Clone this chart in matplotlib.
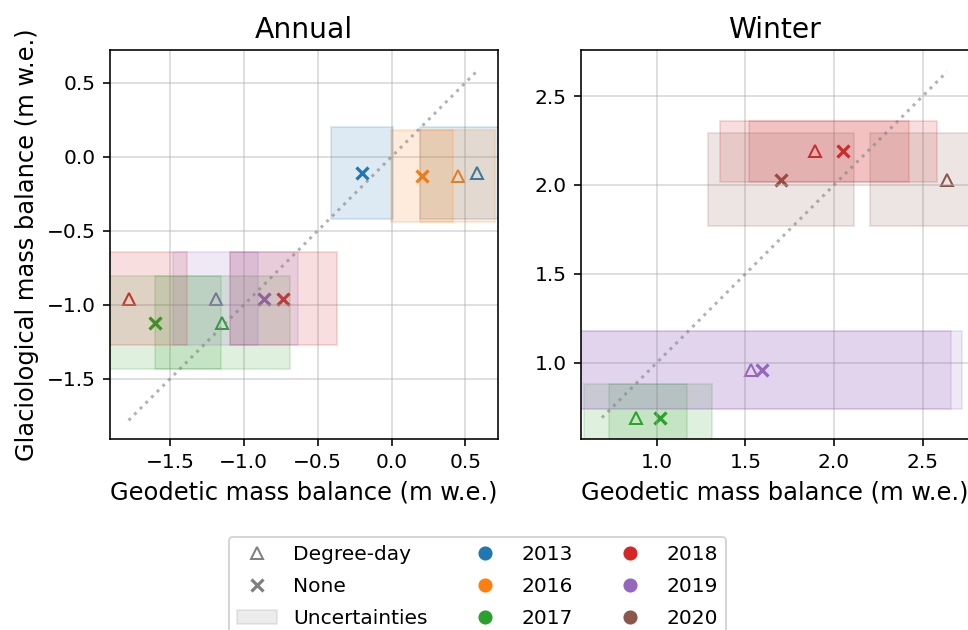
import matplotlib
matplotlib.use("Agg")
import matplotlib.pyplot as plt
from matplotlib.patches import Rectangle, Patch
from matplotlib.lines import Line2D

# ---------------- data ----------------
years = [2013, 2016, 2017, 2018, 2019, 2020]
year_colors = ["C0", "C1", "C2", "C3", "C4", "C5"]

# Annual
annual_years = [2013, 2016, 2017, 2018, 2019]
annual_glac = [-0.11, -0.13, -1.12, -0.958, -0.958]
annual_glac_err = [0.31, 0.31, 0.312, 0.312, 0.312]
annual_dd = [0.578, 0.447, -1.145, -1.779, -1.19]
annual_dd_err = [0.389, 0.253, 0.456, 0.392, 0.288]
annual_none = [-0.20, 0.207, -1.60, -0.732, -0.863]
annual_none_err = [0.21, 0.21, 0.443, 0.362, 0.227]

# Winter
winter_years = [2017, 2018, 2019, 2020]
winter_glac = [0.69, 2.19, 0.96, 2.03]
winter_glac_err = [0.192, 0.172, 0.22, 0.26]
winter_dd = [0.88, 1.891, 1.53, 2.637]
winter_dd_err = [0.29, 0.532, 1.13, 0.436]
winter_none = [1.02, 2.051, 1.594, 1.70]
winter_none_err = [0.29, 0.532, 1.126, 0.411]

annual_ticks = [-1.5, -1.0, -0.5, 0.0, 0.5]
winter_ticks = [1.0, 1.5, 2.0, 2.5]
annual_lim = (-1.905, 0.72)
winter_lim = (0.57, 2.76)

titles = ["Annual", "Winter"]
xlabel = "Geodetic mass balance (m w.e.)"
ylabel = "Glaciological mass balance (m w.e.)"
legend_method_labels = ["Degree-day", "None", "Uncertainties"]

# ---------------- plot ----------------
DPI = 145
fig = plt.figure(figsize=(968 / DPI, 630 / DPI), dpi=DPI)
W, H = 968, 630
ax1 = fig.add_axes([110 / W, 1 - 439 / H, 388 / W, 389 / H])
ax2 = fig.add_axes([580.7 / W, 1 - 439 / H, 388 / W, 389 / H])

color_of = dict(zip(years, year_colors))


def draw(ax, yrs, glac, glac_err, dd, dd_err, none, none_err, lim, ticks, title):
    for y, g, ge, d, de, n, ne in zip(yrs, glac, glac_err, dd, dd_err, none, none_err):
        c = color_of[y]
        ax.plot([d], [g], marker="^", ls="none", color=c, mfc="none",
                markersize=6, mew=1.0, zorder=1)
        ax.plot([n], [g], marker="x", ls="none", color=c,
                markersize=6, mew=1.6, zorder=1)
    for y, g, ge, d, de, n, ne in zip(yrs, glac, glac_err, dd, dd_err, none, none_err):
        c = color_of[y]
        for xv, xe in ((d, de), (n, ne)):
            ax.add_patch(Rectangle((xv - xe, g - ge), 2 * xe, 2 * ge,
                                   facecolor=c, edgecolor=c, alpha=0.15,
                                   linewidth=1.0, zorder=2))
    allv = list(glac) + list(dd) + list(none)
    lo, hi = min(allv), max(allv)
    ax.plot([lo, hi], [lo, hi], ls=":", color="grey", alpha=0.6, lw=1.5, zorder=3)
    ax.set_xlim(*lim)
    ax.set_ylim(*lim)
    ax.set_xticks(ticks)
    ax.set_yticks(ticks)
    ax.grid(True, color="#b0b0b0", alpha=0.5, lw=0.8)
    ax.tick_params(labelsize=10)
    ax.set_title(title, fontsize=14)
    ax.set_xlabel(xlabel, fontsize=12)


draw(ax1, annual_years, annual_glac, annual_glac_err, annual_dd, annual_dd_err,
     annual_none, annual_none_err, annual_lim, annual_ticks, titles[0])
draw(ax2, winter_years, winter_glac, winter_glac_err, winter_dd, winter_dd_err,
     winter_none, winter_none_err, winter_lim, winter_ticks, titles[1])
ax1.set_ylabel(ylabel, fontsize=12)

handles = [
    Line2D([], [], marker="^", ls="none", color="grey", mfc="none", markersize=5.5, mew=1.0),
    Line2D([], [], marker="x", ls="none", color="grey", markersize=5.5, mew=1.6),
    Patch(facecolor="grey", edgecolor="grey", alpha=0.15),
]
labels = list(legend_method_labels)
for y, c in zip(years, year_colors):
    handles.append(Line2D([], [], marker="o", ls="none", color=c, markersize=6))
    labels.append(str(y))

fig.legend(handles, labels, loc="upper center", ncol=3, fontsize=10,
           bbox_to_anchor=(477.5 / W, 1 - 537 / H), borderaxespad=0,
           labelspacing=0.65, columnspacing=1.85)

fig.savefig("out.png", dpi=DPI)
